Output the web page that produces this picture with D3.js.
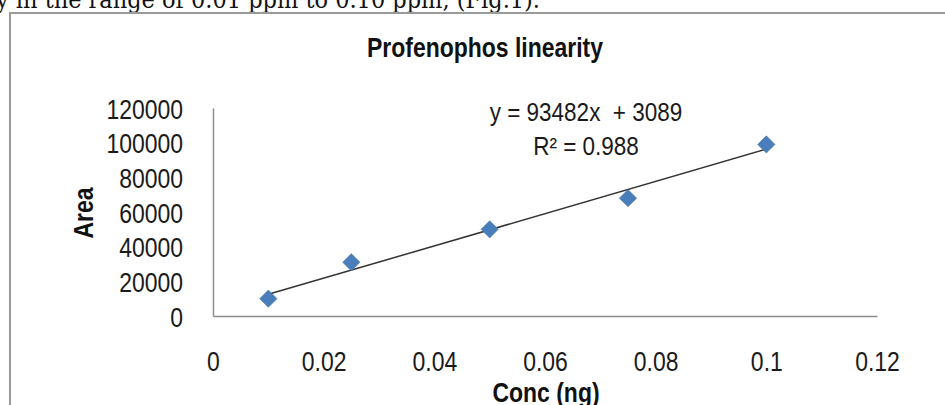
<!DOCTYPE html>
<html>
<head>
<meta charset="utf-8">
<script src="https://cdn.jsdelivr.net/npm/d3@7"></script>
<style>
  body { margin: 0; background: #fff; }
  svg { display: block; }
</style>
</head>
<body>
<div class="canvas"></div>
<script>
// data
const conc = [0.01, 0.025, 0.05, 0.075, 0.1]
const area = [10000, 31000, 50000, 68000, 99000]
const xTicks = [0, 0.02, 0.04, 0.06, 0.08, 0.1, 0.12]
const yTicks = [0, 20000, 40000, 60000, 80000, 100000, 120000]
const equation = ['y = 93482x  + 3089', 'R² = 0.988']

const W = 945
const H = 405
const plot = { left: 213, right: 877, top: 108, bottom: 316 }
const font = '"Liberation Sans", Arial, sans-serif'
const narrow = 0.82

const svg = d3.select('.canvas')
  .append('svg')
  .attr('width', W)
  .attr('height', H)

// cut-off line of body text above the figure
svg.append('text')
  .attr('x', -4)
  .attr('y', 8)
  .attr('font-family', '"DejaVu Serif", "Liberation Serif", serif')
  .attr('font-size', 24)
  .attr('fill', '#111')
  .attr('textLength', 544)
  .attr('lengthAdjust', 'spacingAndGlyphs')
  .text('y in the range of 0.01 ppm to 0.10 ppm, (Fig.1).')

// chart frame
svg.append('rect')
  .attr('x', 10)
  .attr('y', 13)
  .attr('width', W)
  .attr('height', H)
  .attr('fill', 'none')
  .attr('stroke', '#9a9a9a')
  .attr('stroke-width', 2)

const x = d3.scaleLinear().domain([0, 0.12]).range([plot.left, plot.right])
const y = d3.scaleLinear().domain([0, 120000]).range([plot.bottom, plot.top])

//? axes
const xAxis = svg.append('g')
  .attr('transform', `translate(0, ${plot.bottom})`)
  .call(d3.axisBottom(x).tickValues(xTicks).tickSize(0).tickFormat(d3.format('~g')))

const yAxis = svg.append('g')
  .attr('transform', `translate(${plot.left}, 0)`)
  .call(d3.axisLeft(y).tickValues(yTicks).tickSize(0).tickFormat(d3.format('d')))

svg.selectAll('.domain')
  .attr('stroke', '#8c8c8c')
  .attr('stroke-width', 1.5)

svg.selectAll('.tick text')
  .attr('font-family', font)
  .attr('font-size', 28)
  .attr('fill', '#1a1a1a')

xAxis.selectAll('.tick text')
  .attr('dy', null)
  .attr('y', 55)
  .attr('transform', `scale(${narrow}, 1)`)

yAxis.selectAll('.tick text')
  .attr('dy', null)
  .attr('y', 10)
  .attr('x', -30 / narrow)
  .attr('transform', `scale(${narrow}, 1)`)

//? titles
const label = (txt, tx, ty, size, rot) => svg.append('text')
  .attr('transform', `translate(${tx}, ${ty}) rotate(${rot}) scale(${narrow}, 1)`)
  .attr('text-anchor', 'middle')
  .attr('font-family', font)
  .attr('font-weight', 'bold')
  .attr('font-size', size)
  .attr('fill', '#111')
  .text(txt)

label('Profenophos linearity', 485, 57, 28, 0)
label('Area', 93, 213, 28, -90)
label('Conc (ng)', 546, 402, 28, 0)

//? linear trendline, least squares on the points
const mx = d3.mean(conc)
const my = d3.mean(area)
const slope = d3.sum(conc, (c, i) => (c - mx) * (area[i] - my)) / d3.sum(conc, c => (c - mx) ** 2)
const icpt = my - slope * mx
const ends = d3.extent(conc)

svg.append('path')
  .datum(ends)
  .attr('fill', 'none')
  .attr('stroke', '#333')
  .attr('stroke-width', 1.5)
  .attr('d', d3.line().x(d => x(d)).y(d => y(slope * d + icpt)))

//? diamond markers
svg.append('g')
  .selectAll('path')
  .data(conc)
  .join('path')
  .attr('transform', (d, i) => `translate(${x(d)}, ${y(area[i])}) rotate(45)`)
  .attr('d', d3.symbol(d3.symbolSquare, 150))
  .attr('fill', '#4a7ebb')
  .attr('stroke', '#3f70aa')
  .attr('stroke-width', 0.5)

//? equation label
svg.append('g')
  .selectAll('text')
  .data(equation)
  .join('text')
  .attr('transform', (d, i) => `translate(586, ${121 + i * 34}) scale(0.9, 1)`)
  .attr('text-anchor', 'middle')
  .attr('font-family', font)
  .attr('font-size', 25)
  .attr('fill', '#1a1a1a')
  .style('white-space', 'pre')
  .text(d => d)
</script>
</body>
</html>
